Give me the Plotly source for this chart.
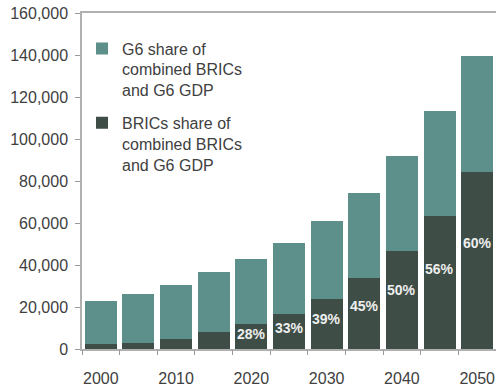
import plotly.graph_objects as go

years = [2000, 2005, 2010, 2015, 2020, 2025, 2030, 2035, 2040, 2045, 2050]
total_gdp = [22700, 26000, 30600, 36500, 42900, 50500, 60800, 74400, 92000, 113100, 139600]
brics_gdp = [2400, 2900, 4800, 7900, 11900, 16800, 23900, 33800, 46800, 63500, 84300]
g6_gdp = [t - b for t, b in zip(total_gdp, brics_gdp)]
share_labels = ["", "", "", "", "28%", "33%", "39%", "45%", "50%", "56%", "60%"]
tick_years = [2000, 2010, 2020, 2030, 2040, 2050]
tick_labels = ["2000", "2010", "2020", "2030", "2040", "2050"]

FONT = "Liberation Sans, Arial, sans-serif"
TEAL = "#5e908b"
DARK = "#3e4e47"
step = 5
boundaries = [y - step / 2 for y in years] + [years[-1] + step / 2]
xr = [years[0] - step / 2, years[-1] + step / 2]

fig = go.Figure()
fig.add_trace(go.Bar(
    x=years, y=brics_gdp, name="BRICs share of<br>combined BRICs<br>and G6 GDP",
    marker=dict(color=DARK, line=dict(width=0)), width=step * 0.85,
    legendgroup="b", legendrank=2,
))
fig.add_trace(go.Bar(
    x=years, y=g6_gdp, name="G6 share of<br>combined BRICs<br>and G6 GDP",
    marker=dict(color=TEAL, line=dict(width=0)), width=step * 0.85,
    legendgroup="g", legendrank=1,
))
# invisible trace on overlay axis to draw category boundary ticks
fig.add_trace(go.Scatter(x=xr, y=[0, 0], xaxis="x2", mode="lines",
                         line=dict(width=0), showlegend=False, hoverinfo="skip"))

for x, b, lab in zip(years, brics_gdp, share_labels):
    if lab:
        fig.add_annotation(x=x, y=b * 0.6, text=lab, showarrow=False,
                           font=dict(family=FONT, size=14, color="#eeeeee", weight="bold"),
                           xanchor="center", yanchor="middle")

fig.update_layout(
    width=496, height=389,
    margin=dict(l=82, r=0, t=13, b=40),
    barmode="stack",
    plot_bgcolor="white", paper_bgcolor="white",
    font=dict(family=FONT, size=16, color="#404040"),
    showlegend=True,
    legend=dict(x=0.0, y=0.945, xanchor="left", yanchor="top",
                traceorder="grouped", valign="top", tracegroupgap=9,
                font=dict(family=FONT, size=16, color="#404040"),
                bgcolor="rgba(0,0,0,0)", itemwidth=30),
    xaxis=dict(
        range=xr, tickvals=tick_years, ticktext=tick_labels,
        ticks="", showline=True, linecolor="#b0b0b0", linewidth=1.5, mirror=True,
        showgrid=False, zeroline=False, ticklabelstandoff=14,
        tickfont=dict(family=FONT, size=16, color="#404040"),
    ),
    xaxis2=dict(
        overlaying="x", side="bottom", range=xr, tickvals=boundaries,
        showticklabels=False, ticks="outside", ticklen=5, tickcolor="#9a9a9a",
        showline=False, showgrid=False, zeroline=False,
    ),
    yaxis=dict(
        range=[0, 160000], tickvals=list(range(0, 160001, 20000)),
        tickformat=",d", ticks="outside", ticklen=5, tickcolor="#9a9a9a",
        showline=True, linecolor="#b0b0b0", linewidth=1.5,
        showgrid=False, zeroline=False, ticklabelstandoff=4,
        tickfont=dict(family=FONT, size=16, color="#404040"),
    ),
)

fig.write_html("out.html")
